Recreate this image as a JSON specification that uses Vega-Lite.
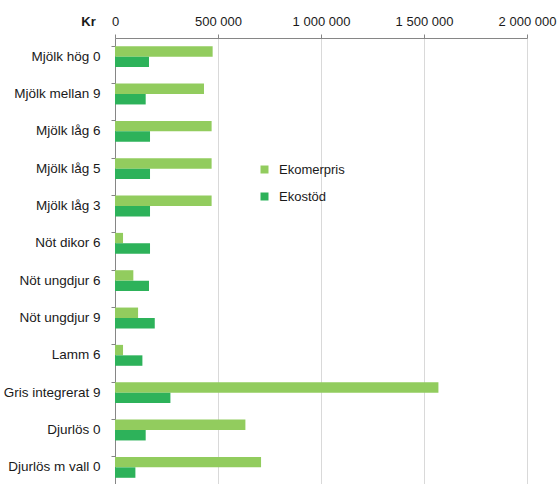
{
  "$schema": "https://vega.github.io/schema/vega-lite/v6.json",
  "autosize": "none",
  "width": 412,
  "height": 448,
  "padding": {"left": 115, "top": 38, "right": 31, "bottom": 0},
  "background": "white",
  "config": {"view": {"stroke": null}, "font": "Liberation Sans"},
  "data": {"values": [
    {"kategori": "Mjölk hög 0", "serie": "Ekomerpris", "kr": 474000},
    {"kategori": "Mjölk hög 0", "serie": "Ekostöd", "kr": 165000},
    {"kategori": "Mjölk mellan 9", "serie": "Ekomerpris", "kr": 432000},
    {"kategori": "Mjölk mellan 9", "serie": "Ekostöd", "kr": 149000},
    {"kategori": "Mjölk låg 6", "serie": "Ekomerpris", "kr": 469000},
    {"kategori": "Mjölk låg 6", "serie": "Ekostöd", "kr": 170000},
    {"kategori": "Mjölk låg 5", "serie": "Ekomerpris", "kr": 469000},
    {"kategori": "Mjölk låg 5", "serie": "Ekostöd", "kr": 170000},
    {"kategori": "Mjölk låg 3", "serie": "Ekomerpris", "kr": 469000},
    {"kategori": "Mjölk låg 3", "serie": "Ekostöd", "kr": 170000},
    {"kategori": "Nöt dikor 6", "serie": "Ekomerpris", "kr": 39000},
    {"kategori": "Nöt dikor 6", "serie": "Ekostöd", "kr": 170000},
    {"kategori": "Nöt ungdjur 6", "serie": "Ekomerpris", "kr": 89000},
    {"kategori": "Nöt ungdjur 6", "serie": "Ekostöd", "kr": 165000},
    {"kategori": "Nöt ungdjur 9", "serie": "Ekomerpris", "kr": 112000},
    {"kategori": "Nöt ungdjur 9", "serie": "Ekostöd", "kr": 193000},
    {"kategori": "Lamm 6", "serie": "Ekomerpris", "kr": 39000},
    {"kategori": "Lamm 6", "serie": "Ekostöd", "kr": 133000},
    {"kategori": "Gris integrerat 9", "serie": "Ekomerpris", "kr": 1570000},
    {"kategori": "Gris integrerat 9", "serie": "Ekostöd", "kr": 269000},
    {"kategori": "Djurlös 0", "serie": "Ekomerpris", "kr": 633000},
    {"kategori": "Djurlös 0", "serie": "Ekostöd", "kr": 149000},
    {"kategori": "Djurlös m vall 0", "serie": "Ekomerpris", "kr": 709000},
    {"kategori": "Djurlös m vall 0", "serie": "Ekostöd", "kr": 99000}
  ]},
  "mark": {"type": "bar"},
  "encoding": {
    "y": {
      "field": "kategori", "type": "nominal", "sort": null,
      "scale": {"paddingInner": 0.44, "paddingOuter": 0.22},
      "axis": {
        "title": null, "bandPosition": 0, "tickSize": 4, "tickColor": "#868686",
        "domainColor": "#868686", "labelFontSize": 13.5, "labelColor": "#1a1a1a",
        "labelPadding": 11, "grid": false
      }
    },
    "yOffset": {"field": "serie", "type": "nominal", "sort": ["Ekomerpris", "Ekostöd"]},
    "x": {
      "field": "kr", "type": "quantitative",
      "scale": {"domain": [0, 2000000], "nice": false},
      "axis": {
        "orient": "top", "values": [0, 500000, 1000000, 1500000, 2000000],
        "labelExpr": "replace(format(datum.value, ',d'), /,/g, ' ')",
        "tickSize": 4, "tickColor": "#868686", "domainColor": "#868686",
        "gridColor": "#d9d9d9", "labelFontSize": 13, "labelColor": "#1a1a1a",
        "labelPadding": 6, "labelFlush": false,
        "title": "Kr", "titleFontSize": 13, "titleFontWeight": "bold", "titleColor": "#1a1a1a",
        "titleX": -27, "titleY": -17, "titleAlign": "center", "titleBaseline": "middle"
      }
    },
    "color": {
      "field": "serie", "type": "nominal",
      "scale": {"domain": ["Ekomerpris", "Ekostöd"], "range": ["#92cc5e", "#2db25a"]},
      "legend": {
        "title": null, "orient": "none", "legendX": 143, "legendY": 125,
        "symbolType": "square", "symbolSize": 64, "symbolStrokeWidth": 0,
        "labelFontSize": 13, "labelColor": "#1a1a1a", "labelOffset": 8,
        "rowPadding": 13, "padding": 0
      }
    }
  }
}
